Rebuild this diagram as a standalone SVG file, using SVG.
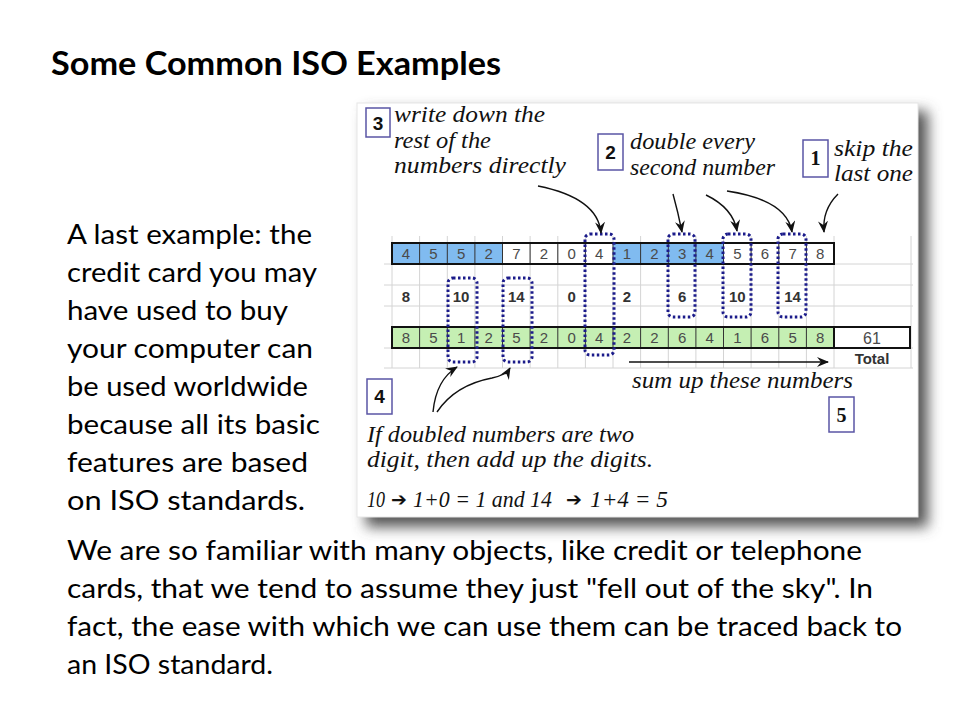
<svg xmlns="http://www.w3.org/2000/svg" width="960" height="720" viewBox="0 0 960 720">
<defs>
<style>
.title{font-family:Lato,"Open Sans","Liberation Sans",sans-serif;font-weight:bold;font-size:32px;fill:#000}
.body{font-family:Lato,"Open Sans","Liberation Sans",sans-serif;font-size:27px;fill:#000}
.hand{font-family:"Liberation Serif","DejaVu Serif",serif;font-style:italic;font-size:24px;fill:#111}
.harr{font-family:"DejaVu Sans",sans-serif;font-weight:bold;font-size:19px;fill:#111}
.cell{font-family:"Liberation Sans",Arial,sans-serif;font-size:15px;fill:#4a4a4a;text-anchor:middle}
.dbl{font-family:"Liberation Sans",Arial,sans-serif;font-size:15px;font-weight:bold;fill:#333;text-anchor:middle}
.num{font-family:"Liberation Sans",Arial,sans-serif;font-size:19px;font-weight:bold;fill:#111;text-anchor:middle}
.numserif{font-family:"Liberation Serif",serif;font-size:20px;font-weight:bold;fill:#111;text-anchor:middle}
.nbox{fill:#fff;stroke:#5a55a5;stroke-width:1.5}
.grid{stroke:#d4d4d4;stroke-width:1}
.sep{stroke:#333;stroke-width:1}
.rowbox{fill:none;stroke:#111;stroke-width:2}
.dots{fill:none;stroke:#1b1b8a;stroke-width:3;stroke-dasharray:2.5 2.5}
.arr{fill:none;stroke:#111;stroke-width:1.4;marker-end:url(#ah)}
</style>
<marker id="ah" markerUnits="userSpaceOnUse" markerWidth="12" markerHeight="10" refX="11" refY="5" orient="auto">
<path d="M0,0 L12,5 L0,10 L4,5 z" fill="#111"/>
</marker>
<filter id="shadow" x="-10%" y="-10%" width="130%" height="130%">
<feGaussianBlur stdDeviation="7"/>
</filter>
</defs>
<rect width="960" height="720" fill="#fff"/>

<text class="title" x="51" y="75" textLength="450" lengthAdjust="spacingAndGlyphs">Some Common ISO Examples</text>

<g id="left-text">
<text class="body" x="67" y="244" textLength="245" lengthAdjust="spacingAndGlyphs">A last example: the</text>
<text class="body" x="67" y="282" textLength="250" lengthAdjust="spacingAndGlyphs">credit card you may</text>
<text class="body" x="67" y="320" textLength="221" lengthAdjust="spacingAndGlyphs">have used to buy</text>
<text class="body" x="67" y="358" textLength="246" lengthAdjust="spacingAndGlyphs">your computer can</text>
<text class="body" x="67" y="396" textLength="241" lengthAdjust="spacingAndGlyphs">be used worldwide</text>
<text class="body" x="67" y="434" textLength="253" lengthAdjust="spacingAndGlyphs">because all its basic</text>
<text class="body" x="67" y="472" textLength="241" lengthAdjust="spacingAndGlyphs">features are based</text>
<text class="body" x="67" y="510" textLength="238" lengthAdjust="spacingAndGlyphs">on ISO standards.</text>
</g>

<g id="bottom-text">
<text class="body" x="67" y="560" textLength="795" lengthAdjust="spacingAndGlyphs">We are so familiar with many objects, like credit or telephone</text>
<text class="body" x="67" y="598" textLength="806" lengthAdjust="spacingAndGlyphs">cards, that we tend to assume they just "fell out of the sky". In</text>
<text class="body" x="67" y="636" textLength="835" lengthAdjust="spacingAndGlyphs">fact, the ease with which we can use them can be traced back to</text>
<text class="body" x="67" y="674" textLength="206" lengthAdjust="spacingAndGlyphs">an ISO standard.</text>
</g>

<g id="panel">
<rect x="366" y="111" width="562" height="416" fill="#555" filter="url(#shadow)"/>
<rect x="357" y="103" width="561" height="414" fill="#fff" stroke="#e6e6e6" stroke-width="1"/>
</g>

<g id="grid">
<line class="grid" x1="384" y1="264" x2="913" y2="264"/>
<line class="grid" x1="384" y1="285" x2="913" y2="285"/>
<line class="grid" x1="384" y1="306" x2="913" y2="306"/>
<line class="grid" x1="384" y1="348" x2="913" y2="348"/>
<line class="grid" x1="384" y1="368" x2="913" y2="368"/>
<g id="vgrid">
<line class="grid" x1="392" y1="236" x2="392" y2="368"/>
<line class="grid" x1="419.6" y1="236" x2="419.6" y2="368"/>
<line class="grid" x1="447.3" y1="236" x2="447.3" y2="368"/>
<line class="grid" x1="474.9" y1="236" x2="474.9" y2="368"/>
<line class="grid" x1="502.5" y1="236" x2="502.5" y2="368"/>
<line class="grid" x1="530.1" y1="236" x2="530.1" y2="368"/>
<line class="grid" x1="557.8" y1="236" x2="557.8" y2="368"/>
<line class="grid" x1="585.4" y1="236" x2="585.4" y2="368"/>
<line class="grid" x1="613" y1="236" x2="613" y2="368"/>
<line class="grid" x1="640.6" y1="236" x2="640.6" y2="368"/>
<line class="grid" x1="668.3" y1="236" x2="668.3" y2="368"/>
<line class="grid" x1="695.9" y1="236" x2="695.9" y2="368"/>
<line class="grid" x1="723.5" y1="236" x2="723.5" y2="368"/>
<line class="grid" x1="751.1" y1="236" x2="751.1" y2="368"/>
<line class="grid" x1="778.8" y1="236" x2="778.8" y2="368"/>
<line class="grid" x1="806.4" y1="236" x2="806.4" y2="368"/>
<line class="grid" x1="834" y1="236" x2="834" y2="368"/>
<line class="grid" x1="911" y1="236" x2="911" y2="368"/>
</g>
</g>

<g id="row1">
<rect x="392" y="243" width="110.5" height="21" fill="#80bbf0"/>
<rect x="613" y="243" width="110.5" height="21" fill="#80bbf0"/>
<line class="sep" x1="419.6" y1="243" x2="419.6" y2="264"/>
<line class="sep" x1="447.3" y1="243" x2="447.3" y2="264"/>
<line class="sep" x1="474.9" y1="243" x2="474.9" y2="264"/>
<line class="sep" x1="502.5" y1="243" x2="502.5" y2="264"/>
<line class="sep" x1="530.1" y1="243" x2="530.1" y2="264"/>
<line class="sep" x1="557.8" y1="243" x2="557.8" y2="264"/>
<line class="sep" x1="585.4" y1="243" x2="585.4" y2="264"/>
<line class="sep" x1="613" y1="243" x2="613" y2="264"/>
<line class="sep" x1="640.6" y1="243" x2="640.6" y2="264"/>
<line class="sep" x1="668.3" y1="243" x2="668.3" y2="264"/>
<line class="sep" x1="695.9" y1="243" x2="695.9" y2="264"/>
<line class="sep" x1="723.5" y1="243" x2="723.5" y2="264"/>
<line class="sep" x1="751.1" y1="243" x2="751.1" y2="264"/>
<line class="sep" x1="778.8" y1="243" x2="778.8" y2="264"/>
<line class="sep" x1="806.4" y1="243" x2="806.4" y2="264"/>
<rect class="rowbox" x="392" y="243" width="442" height="21"/>
<text class="cell" x="405.8" y="259">4</text>
<text class="cell" x="433.4" y="259">5</text>
<text class="cell" x="461.1" y="259">5</text>
<text class="cell" x="488.7" y="259">2</text>
<text class="cell" x="516.3" y="259">7</text>
<text class="cell" x="544" y="259">2</text>
<text class="cell" x="571.6" y="259">0</text>
<text class="cell" x="599.2" y="259">4</text>
<text class="cell" x="626.8" y="259">1</text>
<text class="cell" x="654.4" y="259">2</text>
<text class="cell" x="682.1" y="259">3</text>
<text class="cell" x="709.7" y="259">4</text>
<text class="cell" x="737.3" y="259">5</text>
<text class="cell" x="765" y="259">6</text>
<text class="cell" x="792.6" y="259">7</text>
<text class="cell" x="820.2" y="259">8</text>
</g>

<g id="row2">
<text class="dbl" x="405.8" y="301.5">8</text>
<text class="dbl" x="461.1" y="301.5">10</text>
<text class="dbl" x="516.3" y="301.5">14</text>
<text class="dbl" x="571.6" y="301.5">0</text>
<text class="dbl" x="626.8" y="301.5">2</text>
<text class="dbl" x="682.1" y="301.5">6</text>
<text class="dbl" x="737.3" y="301.5">10</text>
<text class="dbl" x="792.6" y="301.5">14</text>
</g>

<g id="row3">
<rect x="392" y="327" width="442" height="21" fill="#c5efb3"/>
<line class="sep" x1="419.6" y1="327" x2="419.6" y2="348"/>
<line class="sep" x1="447.3" y1="327" x2="447.3" y2="348"/>
<line class="sep" x1="474.9" y1="327" x2="474.9" y2="348"/>
<line class="sep" x1="502.5" y1="327" x2="502.5" y2="348"/>
<line class="sep" x1="530.1" y1="327" x2="530.1" y2="348"/>
<line class="sep" x1="557.8" y1="327" x2="557.8" y2="348"/>
<line class="sep" x1="585.4" y1="327" x2="585.4" y2="348"/>
<line class="sep" x1="613" y1="327" x2="613" y2="348"/>
<line class="sep" x1="640.6" y1="327" x2="640.6" y2="348"/>
<line class="sep" x1="668.3" y1="327" x2="668.3" y2="348"/>
<line class="sep" x1="695.9" y1="327" x2="695.9" y2="348"/>
<line class="sep" x1="723.5" y1="327" x2="723.5" y2="348"/>
<line class="sep" x1="751.1" y1="327" x2="751.1" y2="348"/>
<line class="sep" x1="778.8" y1="327" x2="778.8" y2="348"/>
<line class="sep" x1="806.4" y1="327" x2="806.4" y2="348"/>
<rect class="rowbox" x="392" y="327" width="442" height="21"/>
<rect class="rowbox" x="834" y="327" width="76" height="21" fill="#fff"/>
<text class="cell" x="405.8" y="343">8</text>
<text class="cell" x="433.4" y="343">5</text>
<text class="cell" x="461.1" y="343">1</text>
<text class="cell" x="488.7" y="343">2</text>
<text class="cell" x="516.3" y="343">5</text>
<text class="cell" x="544" y="343">2</text>
<text class="cell" x="571.6" y="343">0</text>
<text class="cell" x="599.2" y="343">4</text>
<text class="cell" x="626.8" y="343">2</text>
<text class="cell" x="654.4" y="343">2</text>
<text class="cell" x="682.1" y="343">6</text>
<text class="cell" x="709.7" y="343">4</text>
<text class="cell" x="737.3" y="343">1</text>
<text class="cell" x="765" y="343">6</text>
<text class="cell" x="792.6" y="343">5</text>
<text class="cell" x="820.2" y="343">8</text>
<text class="cell" x="872" y="343.5" style="font-size:16px">61</text>
<text class="dbl" x="872" y="364">Total</text>
</g>

<g id="dotted-boxes">
<rect class="dots" x="448" y="278" width="29" height="84" rx="5"/>
<rect class="dots" x="503" y="278" width="29" height="84" rx="5"/>
<rect class="dots" x="585" y="234" width="29" height="121" rx="5"/>
<rect class="dots" x="668" y="234" width="27" height="83" rx="5"/>
<rect class="dots" x="723" y="234" width="28" height="83" rx="5"/>
<rect class="dots" x="778" y="234" width="28" height="83" rx="5"/>
</g>

<g id="connectors">
<path class="arr" d="M538,186 Q598,198 601,233"/>
<path class="arr" d="M673,194 Q678,212 682,232"/>
<path class="arr" d="M706,195 Q733,208 737,231"/>
<path class="arr" d="M727,191 Q787,200 792,232"/>
<path class="arr" d="M838,194 Q822,210 824,232"/>
<path class="arr" d="M629,362 L828,362"/>
<path class="arr" d="M433,412 Q436,380 457,367"/>
<path class="arr" d="M437,412 Q455,385 492,378 Q506,375 510,368"/>
</g>

<g id="step3">
<rect class="nbox" x="366" y="108" width="24" height="29"/>
<text class="num" x="378" y="130">3</text>
<text class="hand" x="394" y="122" textLength="151" lengthAdjust="spacingAndGlyphs">write down the</text>
<text class="hand" x="394" y="148" textLength="97" lengthAdjust="spacingAndGlyphs">rest of the</text>
<text class="hand" x="394" y="173" textLength="172" lengthAdjust="spacingAndGlyphs">numbers directly</text>
</g>

<g id="step2">
<rect class="nbox" x="598" y="134" width="25" height="36"/>
<text class="num" x="610.5" y="159">2</text>
<text class="hand" x="630" y="149" textLength="125" lengthAdjust="spacingAndGlyphs">double every</text>
<text class="hand" x="630" y="175" textLength="145" lengthAdjust="spacingAndGlyphs">second number</text>
</g>

<g id="step1">
<rect class="nbox" x="803" y="140" width="25" height="37"/>
<text class="numserif" x="815.5" y="165">1</text>
<text class="hand" x="834" y="156" textLength="79" lengthAdjust="spacingAndGlyphs">skip the</text>
<text class="hand" x="834" y="181" textLength="79" lengthAdjust="spacingAndGlyphs">last one</text>
</g>

<g id="step4">
<rect class="nbox" x="367" y="379" width="25" height="35"/>
<text class="num" x="379.5" y="403">4</text>
<text class="hand" x="367" y="442" textLength="267" lengthAdjust="spacingAndGlyphs">If doubled numbers are two</text>
<text class="hand" x="367" y="467" textLength="286" lengthAdjust="spacingAndGlyphs">digit, then add up the digits.</text>
<text class="hand" x="367" y="507" textLength="18" lengthAdjust="spacingAndGlyphs">10</text>
<text class="harr" x="391" y="506">➔</text>
<text class="hand" x="413" y="507" textLength="139" lengthAdjust="spacingAndGlyphs">1+0 = 1 and 14</text>
<text class="harr" x="566" y="506">➔</text>
<text class="hand" x="590" y="507" textLength="78" lengthAdjust="spacingAndGlyphs">1+4 = 5</text>
</g>

<g id="step5">
<rect class="nbox" x="829" y="397" width="25" height="35"/>
<text class="numserif" x="841.5" y="422">5</text>
<text class="hand" x="632" y="388" textLength="221" lengthAdjust="spacingAndGlyphs">sum up these numbers</text>
</g>
</svg>
